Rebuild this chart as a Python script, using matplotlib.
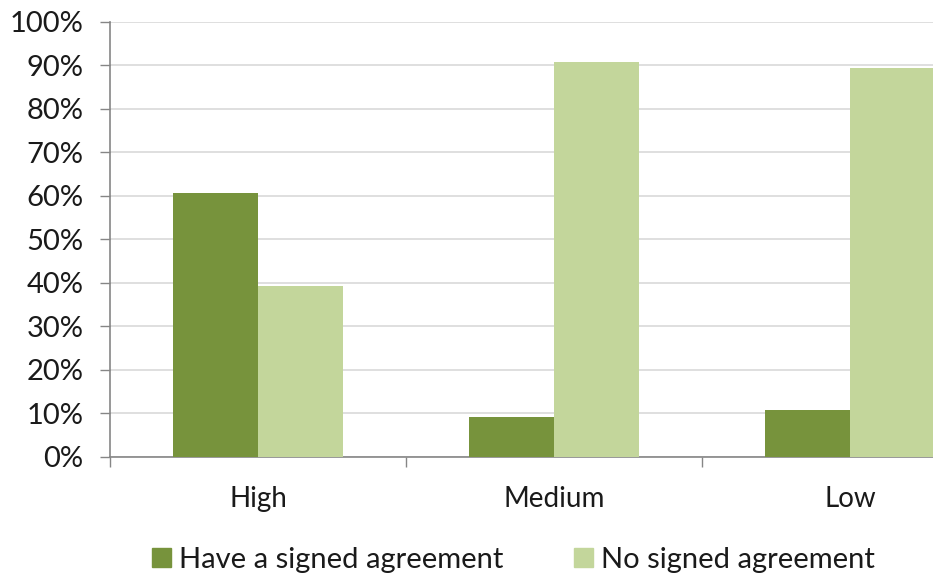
import matplotlib.pyplot as plt
import numpy as np
from matplotlib.patches import Patch
from matplotlib.ticker import PercentFormatter

plt.rcParams['font.family'] = ['Lato', 'DejaVu Sans']

categories = ['High', 'Medium', 'Low']
signed = [60.7, 9.2, 10.7]
not_signed = [39.2, 90.8, 89.3]
series_names = ['Have a signed agreement', 'No signed agreement']
dark_green = '#77933C'
light_green = '#C3D69B'

fig = plt.figure(figsize=(9.33, 5.77), dpi=100)
# plot area runs a bit past the right edge of the figure
ax = fig.add_axes([0.1179, 0.2088, 0.9518, 0.7531])

x = np.arange(len(categories))
w = 0.287
ax.bar(x - w / 2, signed, w, color=dark_green, zorder=3)
ax.bar(x + w / 2, not_signed, w, color=light_green, zorder=3)

ax.set_xlim(-0.5, 2.5)
ax.set_ylim(0, 100)
ax.set_yticks(np.arange(0, 101, 10))
ax.yaxis.set_major_formatter(PercentFormatter(decimals=0))
ax.grid(axis='y', color='#D9D9D9', lw=1.2, zorder=0)

ax.set_xticks(x)
ax.set_xticklabels(categories)
ax.set_xticks(np.arange(-0.5, 3, 1), minor=True)
ax.tick_params(axis='x', which='major', length=0, pad=21, labelsize=20, colors='#1a1a1a')
ax.tick_params(axis='x', which='minor', length=7, width=1, color='#868686', direction='out')
ax.tick_params(axis='y', length=7, width=1, color='#868686', pad=12, labelsize=21,
               labelcolor='#1a1a1a')

for side in ['top', 'right']:
    ax.spines[side].set_visible(False)
for side in ['left', 'bottom']:
    ax.spines[side].set_color('#868686')
    ax.spines[side].set_linewidth(1.2)

handles = [Patch(color=dark_green), Patch(color=light_green)]
fig.legend(handles, series_names, loc='center', bbox_to_anchor=(0.5504, 0.03), ncol=2,
           frameon=False, fontsize=21, handlelength=0.65, handleheight=0.65,
           handletextpad=0.3, columnspacing=2.4, labelcolor='#1a1a1a')

fig.savefig('out.png', dpi=100)
